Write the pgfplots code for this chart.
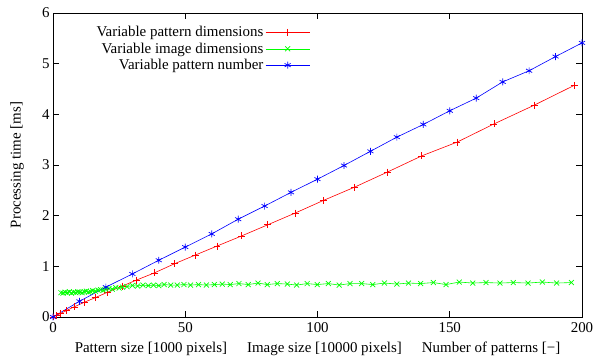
\documentclass[border=0pt]{standalone}
\usepackage{fontspec}
\setmainfont{Liberation Serif}
\usepackage{pgfplots}
\pgfplotsset{compat=1.18}
\newcommand{\fs}{\fontsize{15}{17}\selectfont}
\begin{document}
\begin{tikzpicture}[x=1bp,y=1bp,font=\fs]
\begin{axis}[
  name=ax,
  at={(0,0)}, anchor=south west,
  scale only axis,
  width=529bp, height=304bp,
  xmin=0, xmax=200, ymin=0, ymax=6,
  xtick={0,50,100,150,200},
  ytick={0,1,2,3,4,5,6},
  tick align=inside,
  tick pos=both,
  major tick length=6bp,
  axis line style={line width=0.9pt},
  tick style={line width=0.8pt, black},
  /pgf/number format/assume math mode=true,
  ticklabel style={font=\fs},
  xticklabel style={yshift=-2bp},
  xlabel={Pattern size [1000 pixels]\hspace{20bp}Image size [10000 pixels]\hspace{20bp}Number of patterns [\textminus]},
  ylabel={Processing time [ms]},
  every axis x label/.style={at={(rel axis cs:0.5,0)}, anchor=center, yshift=-32bp, font=\fs},
  every axis y label/.style={at={(rel axis cs:0,0.5)}, anchor=center, xshift=-36bp, rotate=90, font=\fs},
  legend plot pos=right,
  legend cell align=right,
  legend style={draw=none, fill=none, at={(0.488,0.966)}, anchor=north east,
    font=\fs, row sep=0.5bp, inner sep=1bp},
  legend image code/.code={
    \draw[mark repeat=2,mark phase=2] plot coordinates {(0bp,0bp) (22bp,0bp) (44bp,0bp)};},
]
\addplot[red, line width=0.6pt, mark=+, mark size=3.5pt, mark options={line width=0.7pt}] coordinates {
(0,0.00) (1.3,0.03) (2.9,0.07) (5.2,0.13) (8,0.20) (11.8,0.29) (15.9,0.38)
(20.7,0.49) (26.2,0.61) (31.6,0.73) (38.3,0.87) (45.9,1.05) (53.7,1.22)
(62,1.40) (71.3,1.60) (81.2,1.82) (91.5,2.05) (102.2,2.30) (113.9,2.56)
(126.4,2.86) (139.4,3.18) (152.7,3.45) (166.7,3.81) (181.9,4.18) (197,4.57)
};
\addlegendentry{Variable pattern dimensions}
\addplot[color={rgb,255:red,0;green,255;blue,0}, line width=0.6pt, mark=x, mark size=3.5pt, mark options={line width=0.7pt}] coordinates {
(3,0.48) (3.8,0.47) (4.6,0.49) (5.4,0.48) (6.2,0.50) (7,0.47) (7.8,0.49)
(8.6,0.48) (9.4,0.50) (10.2,0.49) (11,0.48) (11.8,0.50) (12.6,0.51)
(13.4,0.49) (14.2,0.50) (15,0.52) (16,0.51) (17,0.53) (18,0.54) (19,0.53)
(20,0.55) (21.2,0.56) (22.4,0.55) (23.7,0.58) (25,0.57) (26.3,0.59)
(28,0.60) (30,0.62) (32,0.61) (34,0.63) (36,0.62) (38,0.63) (40,0.62)
(42,0.64) (44.5,0.63) (47,0.63) (49.5,0.64) (52,0.63) (55,0.64) (58,0.63)
(61,0.64) (64,0.65) (67,0.64) (70.3,0.66) (73.8,0.64) (77.5,0.67)
(81,0.64) (84.8,0.66) (88.6,0.65) (92.1,0.63) (96.1,0.66) (99.9,0.64)
(104.1,0.66) (108.2,0.63) (112.3,0.66) (116.7,0.66) (120.9,0.64)
(125.3,0.67) (130,0.65) (134.4,0.67) (139,0.66) (143.8,0.68) (148.6,0.64)
(153.6,0.69) (158.7,0.67) (163.7,0.68) (169,0.67) (174,0.68) (179.6,0.67)
(185,0.69) (190.4,0.67) (196,0.68)
};
\addlegendentry{Variable image dimensions}
\addplot[blue, line width=0.6pt, mark=asterisk, mark size=3.5pt, mark options={line width=0.7pt}] coordinates {
(0,0.00) (10,0.31) (20,0.59) (30,0.85) (40,1.12) (50,1.38) (60,1.64)
(70,1.93) (80,2.19) (90,2.46) (100,2.72) (110,2.99) (120,3.27) (130,3.55)
(140,3.80) (150,4.07) (160,4.32) (170,4.64) (180,4.86) (190,5.14) (200,5.41)
};
\addlegendentry{Variable pattern number}
\end{axis}
\pgfresetboundingbox
\path ([xshift=-53bp,yshift=-41bp]ax.south west) rectangle ([xshift=13bp,yshift=13bp]ax.north east);
\end{tikzpicture}
\end{document}
